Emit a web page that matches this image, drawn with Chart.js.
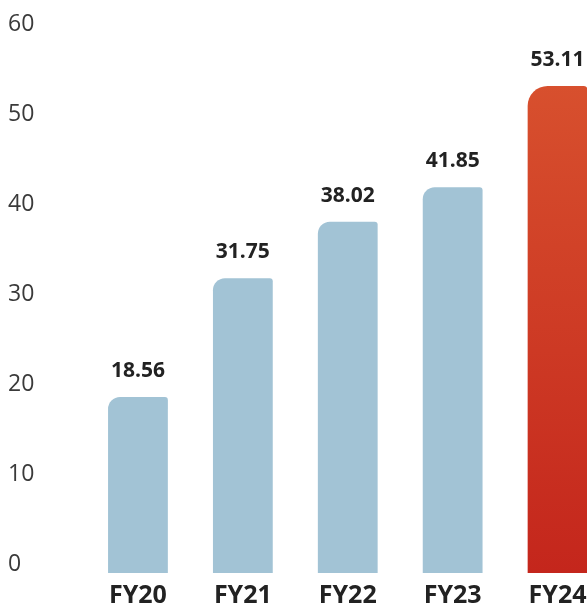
<!DOCTYPE html>
<html>
<head>
<meta charset="utf-8">
<script src="https://cdn.jsdelivr.net/npm/chart.js@4"></script>
<style>
  html, body { margin: 0; padding: 0; background: #fff; overflow: hidden; }
  .wrap { position: relative; width: 640px; height: 611px; }
</style>
</head>
<body>
<div class="wrap"><canvas id="revenueChart"></canvas></div>
<script>
const years = ['FY20', 'FY21', 'FY22', 'FY23', 'FY24'];
const values = [18.56, 31.75, 38.02, 41.85, 53.11];
const yTicks = [0, 10, 20, 30, 40, 50, 60];

const barBlue = '#a2c3d5';
const textDark = '#222222';

// value printed above each bar
const valueLabels = {
  id: 'valueLabels',
  afterDatasetsDraw(chart) {
    const { ctx } = chart;
    const meta = chart.getDatasetMeta(0);
    ctx.save();
    ctx.font = 'bold 21px "Open Sans"';
    ctx.fillStyle = textDark;
    ctx.textAlign = 'center';
    ctx.textBaseline = 'middle';
    meta.data.forEach((bar, i) => {
      ctx.fillText(values[i].toFixed(2), bar.x, bar.y - 26);
    });
    ctx.restore();
  }
};

function barColor(context) {
  if (context.dataIndex !== years.length - 1) return barBlue;
  const area = context.chart.chartArea;
  if (!area) return '#d0402a';
  const g = context.chart.ctx.createLinearGradient(0, area.top, 0, area.bottom);
  g.addColorStop(0, '#da5530');
  g.addColorStop(1, '#c4261c');
  return g;
}

new Chart(document.getElementById('revenueChart'), {
  type: 'bar',
  data: {
    labels: years,
    datasets: [{
      data: values,
      base: -1,
      backgroundColor: barColor,
      borderRadius: (ctx) => ctx.dataIndex === years.length - 1
        ? { topLeft: 20, topRight: 4, bottomLeft: 0, bottomRight: 0 }
        : { topLeft: 12, topRight: 3, bottomLeft: 0, bottomRight: 0 },
      borderSkipped: false,
      barPercentage: 0.57,
      categoryPercentage: 1
    }]
  },
  options: {
    responsive: true,
    maintainAspectRatio: false,
    animation: false,
    layout: { padding: { top: 24, left: 8, right: 30, bottom: 0 } },
    plugins: {
      legend: { display: false },
      tooltip: { enabled: false }
    },
    scales: {
      x: {
        grid: { display: false, drawTicks: false },
        border: { display: false },
        afterFit: (scale) => { scale.height = 38; },
        ticks: {
          padding: 8,
          color: textDark,
          font: { family: 'Open Sans', size: 25, weight: 'bold' }
        }
      },
      y: {
        min: -1,
        max: 60,
        grid: { display: false, drawTicks: false },
        border: { display: false },
        afterFit: (scale) => { scale.width = 77.5; },
        afterBuildTicks: (scale) => { scale.ticks = yTicks.map((v) => ({ value: v })); },
        ticks: {
          crossAlign: 'far',
          color: '#3a3a3a',
          font: { family: 'Open Sans', size: 23 }
        }
      }
    }
  },
  plugins: [valueLabels]
});
</script>
</body>
</html>
